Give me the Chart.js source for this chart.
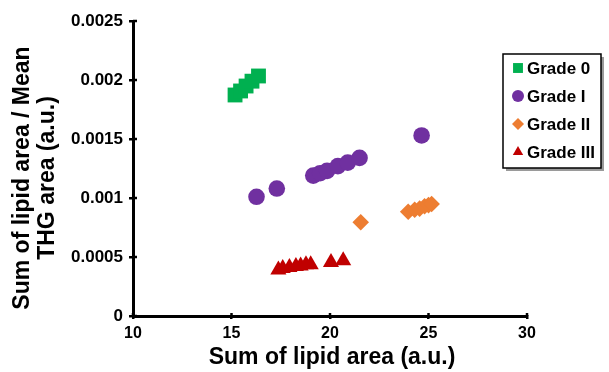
<!DOCTYPE html>
<html>
<head>
<meta charset="utf-8">
<script src="https://cdn.jsdelivr.net/npm/chart.js@4.4.1/dist/chart.umd.min.js"></script>
<style>
  html, body { margin: 0; padding: 0; background: #fff; }
  #wrap { width: 609px; height: 372px; }
</style>
</head>
<body>
<div id="wrap"><canvas id="chart" width="609" height="372"></canvas></div>
<script>
// data
const seriesNames = ['Grade 0', 'Grade I', 'Grade II', 'Grade III'];
const seriesColors = ['#00B050', '#7030A0', '#ED7D31', '#C00000'];
const seriesShapes = ['rect', 'circle', 'rectRot', 'triangle'];
const seriesRadius = [10.5, 8.3, 8.3, 9.3];

const grade0X = [15.18, 15.46, 15.74, 16.04, 16.37];
const grade0Y = [0.001873, 0.001907, 0.001949, 0.00199, 0.002034];

const grade1X = [16.27, 17.3, 19.15, 19.5, 19.85, 20.4, 20.9, 21.5, 24.65];
const grade1Y = [0.00101, 0.00108, 0.00119, 0.00121, 0.00123, 0.00127, 0.0013, 0.00134, 0.00153];

const grade2X = [21.56, 23.97, 24.3, 24.55, 24.8, 25.0, 25.16];
const grade2Y = [0.000794, 0.000884, 0.0009, 0.00091, 0.00093, 0.00094, 0.000949];

const grade3X = [17.38, 17.6, 17.94, 18.27, 18.51, 18.78, 19.02, 20.05, 20.67];
const grade3Y = [0.000392, 0.000404, 0.000413, 0.000421, 0.000426, 0.000435, 0.000435, 0.000455, 0.000469];

const xTickLabels = ['10', '15', '20', '25', '30'];
const yTickLabels = ['0', '0.0005', '0.001', '0.0015', '0.002', '0.0025'];

const xTitle = 'Sum of lipid area (a.u.)';
const yTitle = ['Sum of lipid area / Mean', 'THG area (a.u.)'];

const FONT = '"Liberation Sans", Arial, sans-serif';

const allX = [grade0X, grade1X, grade2X, grade3X];
const allY = [grade0Y, grade1Y, grade2Y, grade3Y];

const datasets = seriesNames.map((name, i) => ({
  label: name,
  data: allX[i].map((x, j) => ({ x, y: allY[i][j] })),
  backgroundColor: seriesColors[i],
  borderColor: seriesColors[i],
  borderWidth: 0,
  pointStyle: seriesShapes[i],
  pointRadius: seriesRadius[i],
  pointHoverRadius: seriesRadius[i],
}));

// titles, inner tick stubs and the boxed legend
const decorations = {
  id: 'decorations',
  afterDraw(chart) {
    const ctx = chart.ctx;
    const area = chart.chartArea;
    const xs = chart.scales.x;
    const ys = chart.scales.y;

    ctx.save();
    ctx.strokeStyle = '#000';
    ctx.lineWidth = 2.5;
    ys.ticks.forEach((t) => {
      const py = ys.getPixelForValue(t.value);
      ctx.beginPath();
      ctx.moveTo(area.left, py);
      ctx.lineTo(area.left + 4, py);
      ctx.stroke();
    });
    xs.ticks.forEach((t) => {
      const px = xs.getPixelForValue(t.value);
      ctx.beginPath();
      ctx.moveTo(px, area.bottom);
      ctx.lineTo(px, area.bottom - 3);
      ctx.stroke();
    });

    // axis titles
    ctx.fillStyle = '#000';
    ctx.font = 'bold 23px ' + FONT;
    ctx.textAlign = 'center';
    ctx.textBaseline = 'middle';
    ctx.fillText(xTitle, 332, 358);

    ctx.save();
    ctx.translate(23, 178);
    ctx.rotate(-Math.PI / 2);
    ctx.fillText(yTitle[0], 0, 0);
    ctx.restore();
    ctx.save();
    ctx.translate(48, 178);
    ctx.rotate(-Math.PI / 2);
    ctx.fillText(yTitle[1], 0, 0);
    ctx.restore();

    // legend box
    const bx = 503, by = 54, bw = 98, bh = 114;
    ctx.fillStyle = '#9a9a9a';
    ctx.fillRect(bx + 3, by + 3, bw, bh);
    ctx.fillStyle = '#fff';
    ctx.fillRect(bx, by, bw, bh);
    ctx.lineWidth = 1.5;
    ctx.strokeStyle = '#000';
    ctx.strokeRect(bx, by, bw, bh);

    ctx.font = 'bold 17px ' + FONT;
    ctx.textAlign = 'left';
    chart.data.datasets.forEach((ds, i) => {
      const ry = 68 + i * 28;
      ctx.fillStyle = ds.backgroundColor;
      Chart.helpers.drawPoint(ctx, {
        pointStyle: ds.pointStyle,
        radius: ds.pointStyle === 'rect' ? 7 : 6,
        rotation: 0,
        borderWidth: 0,
      }, 518, ry);
      ctx.fillStyle = '#000';
      ctx.fillText(ds.label, 527, ry + 1);
    });
    ctx.restore();
  },
};

new Chart(document.getElementById('chart'), {
  type: 'scatter',
  data: { datasets },
  plugins: [decorations],
  options: {
    responsive: false,
    animation: false,
    layout: { padding: { left: 0, right: 82, top: 21, bottom: 0 } },
    plugins: {
      legend: { display: false },
      tooltip: { enabled: false },
    },
    scales: {
      x: {
        type: 'linear',
        min: 10,
        max: 30,
        afterFit: (s) => { s.height = 56; },
        border: { display: true, color: '#000', width: 3 },
        grid: { drawOnChartArea: false, color: '#000', tickLength: 3, lineWidth: 2.5 },
        ticks: {
          stepSize: 5,
          color: '#000',
          padding: 5,
          font: { family: FONT, size: 16, weight: 'bold' },
          callback: (v, i) => xTickLabels[i],
        },
      },
      y: {
        type: 'linear',
        min: 0,
        max: 0.0025,
        afterFit: (s) => { s.width = 133; },
        border: { display: true, color: '#000', width: 3 },
        grid: { drawOnChartArea: false, color: '#000', tickLength: 4, lineWidth: 2.5 },
        ticks: {
          stepSize: 0.0005,
          color: '#000',
          padding: 6,
          font: { family: FONT, size: 17, weight: 'bold' },
          callback: (v, i) => yTickLabels[i],
        },
      },
    },
  },
});
</script>
</body>
</html>
